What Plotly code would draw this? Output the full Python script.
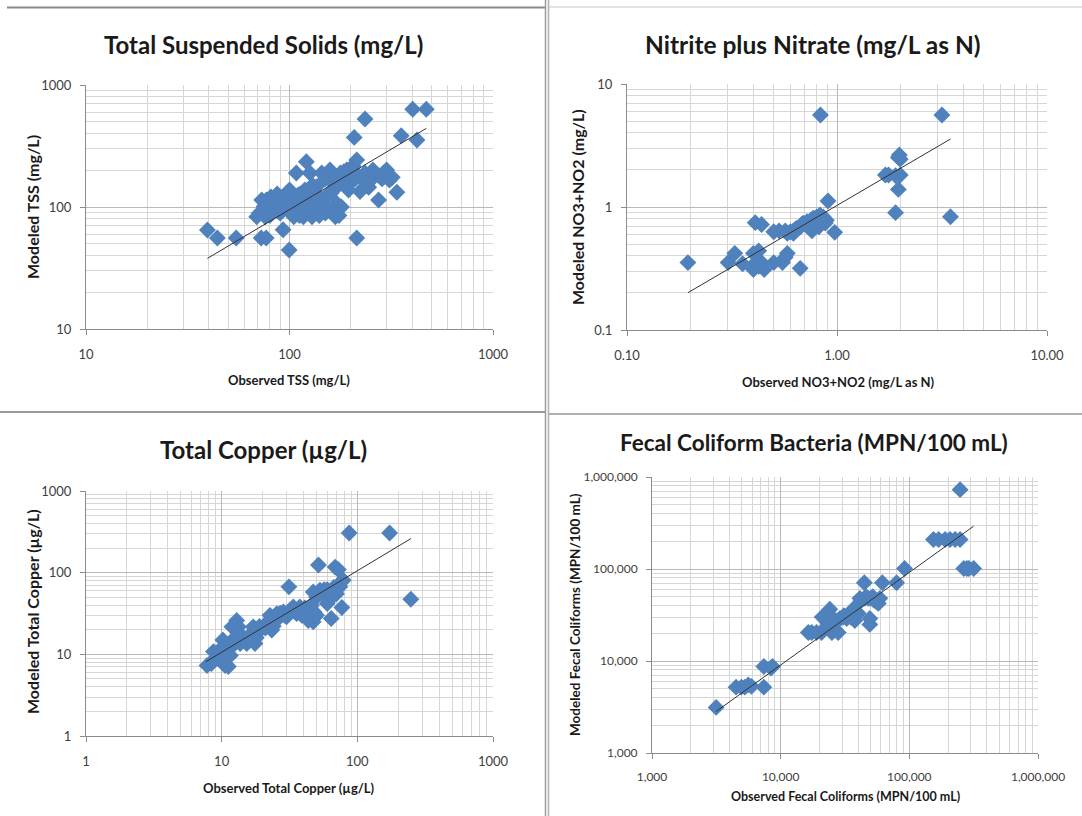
import plotly.graph_objects as go

# ---------------- DATA ----------------
# Total Suspended Solids (mg/L)
tss_obs = [39.5, 44.2, 54.7, 72.6, 76.8, 99.6, 214, 208, 235, 403, 470, 354, 423, 337, 274,
           73, 75, 77, 80, 71, 69, 76, 83, 87, 90, 93, 95, 97, 100, 105, 107, 108, 113, 117,
           121, 121, 126, 129, 132, 136, 142, 144, 150, 155, 158, 165, 168, 171, 178, 182,
           191, 195, 198, 205, 214, 219, 222, 235, 239, 257, 278, 300, 310,
           110, 115, 119, 134, 100, 87, 81, 103, 112, 124, 141, 160, 186, 245, 290,
           85, 92, 98, 103, 110, 118, 125, 135, 145, 150, 160, 170, 175, 185, 195, 200, 210,
           225, 240, 250, 265, 285, 320, 82, 88, 95, 102, 112, 140, 160, 175, 180, 80, 130,
           150, 165, 185]
tss_mod = [64.7, 55.7, 55.7, 55.7, 55.7, 44.4, 55.7, 372, 526, 632, 632, 384, 354, 132, 114,
           114, 101, 114, 107, 89, 83, 83, 114, 101, 89, 65, 114, 128, 101, 83, 114, 190, 128, 83,
           235, 114, 190, 83, 114, 147, 101, 190, 89, 128, 201, 156, 83, 107, 190, 166,
           201, 138, 190, 217, 243, 180, 134, 190, 166, 201, 180, 201, 166,
           95, 107, 138, 128, 138, 128, 121, 118, 125, 140, 120, 180, 170, 145, 190,
           110, 120, 125, 130, 125, 105, 95, 90, 110, 120, 130, 145, 160, 175, 180, 160, 170,
           175, 150, 165, 185, 170, 175, 98, 92, 105, 90, 85, 85, 95, 85, 100, 85, 150,
           170, 185, 195]
tss_trend_x = [39.5, 470]
tss_trend_y = [37.9, 441]

# Nitrite plus Nitrate (mg/L as N)
no3_obs = [0.195, 0.834, 3.16, 3.47, 1.90, 1.96, 1.96, 2.0, 1.76, 1.70, 2.0, 1.90, 1.98,
           0.50, 0.53, 0.567, 0.60, 0.62, 0.64, 0.67, 0.69, 0.72, 0.75, 0.77, 0.80, 0.83, 0.86, 0.89,
           0.76, 0.82, 0.88, 0.68, 0.62, 0.58, 0.73, 0.85, 0.79,
           0.408, 0.437, 0.424, 0.40, 0.408, 0.424, 0.45, 0.40, 0.44, 0.326, 0.303, 0.355,
           0.50, 0.55, 0.58, 0.567, 0.668, 0.975, 0.906]
no3_mod = [0.353, 5.6, 5.6, 0.834, 0.90, 1.39, 2.53, 2.45, 1.82, 1.82, 1.82, 1.80, 2.65,
           0.63, 0.64, 0.64, 0.63, 0.64, 0.67, 0.69, 0.74, 0.76, 0.78, 0.81, 0.83, 0.86, 0.83, 0.78,
           0.64, 0.69, 0.74, 0.72, 0.61, 0.61, 0.69, 0.76, 0.74,
           0.746, 0.72, 0.44, 0.42, 0.35, 0.33, 0.31, 0.31, 0.35, 0.42, 0.353, 0.346,
           0.353, 0.353, 0.42, 0.39, 0.317, 0.622, 1.12]
no3_trend_x = [0.195, 3.47]
no3_trend_y = [0.201, 3.57]

# Total Copper (ug/L)
cu_obs = [7.8, 8.4, 8.7, 9.7, 10.2, 10.6, 11.2, 11.6, 11.9, 12.2, 12.9, 13.3, 13.7, 14.5, 15.3,
          16.2, 17.1, 17.6, 18.1, 19.2, 20.3, 21.5, 22.7, 23.4, 24.6, 25.5, 26.9, 28.5, 30.1,
          31.3, 31.9, 33.7, 35.7, 37.7, 40, 42.3, 43.5, 44.8, 47.3, 48.6, 47.3, 50, 51.7, 53,
          56, 60, 62.8, 64.2, 66.4, 68.6, 72.5, 70.2, 74.4, 76.9, 78.8, 87.1, 173, 248,
          9, 9.5, 10.5, 11, 12.5, 14, 15, 16, 18, 19, 21, 22, 23, 24, 26, 27, 29, 32, 34, 36,
          38, 39, 41, 43, 45, 46, 48, 50, 52, 54, 57, 58, 60, 63, 65, 67, 70, 72, 75]
cu_mod = [7.3, 7.7, 10.8, 8.9, 15, 7.3, 7.1, 9.7, 21.7, 13, 26, 21.7, 13.6, 15, 13.6,
          15, 21.7, 13.6, 18, 19.8, 21.7, 23.8, 30, 19.8, 26, 31.5, 28.9, 33, 28.9,
          67, 34.7, 38, 31.5, 38, 34.7, 31.5, 26, 38, 25, 28.9, 58, 50.4, 124, 60.8,
          55, 42, 55, 27.5, 60.8, 117, 109, 55, 67, 37.4, 81, 306, 306, 47.3,
          9, 11, 12, 10, 16, 17, 15, 17, 16, 22, 21, 25, 27, 22, 30, 32, 30, 33, 35, 33,
          36, 30, 37, 35, 32, 40, 33, 30, 58, 56, 62, 58, 62, 57, 50, 66, 62, 70, 75]
cu_trend_x = [7.63, 248]
cu_trend_y = [8.1, 261]

# Fecal Coliform Bacteria (MPN/100 mL)
fc_obs = [3150, 4500, 4950, 5265, 5600, 5930, 7400, 7400, 8650, 8400,
          16400, 17400, 19000, 20800, 22000, 23400, 24100, 25000, 25600, 26400, 28000, 28900,
          30600, 32600, 34500, 36600, 37700, 40000, 41300, 44700, 45100, 47900, 49300, 49300,
          52000, 55500, 57400, 59000, 61700, 79600, 91800,
          154000, 169000, 190000, 207000, 227000, 248000, 248000, 265000, 280000, 290000, 316000,
          21000, 23000, 27000, 31000, 35000, 38000, 42000, 46000, 50000, 53000]
fc_mod = [3130, 5200, 5200, 5200, 5500, 5300, 5200, 8710, 8710, 8400,
          20400, 20400, 20400, 20400, 29000, 25800, 36500, 20400, 29000, 25800, 20400, 29000,
          30000, 29000, 33000, 36500, 27500, 33000, 48000, 70900, 48000, 48000, 29000, 25000,
          50000, 44000, 42300, 48000, 70900, 70900, 101400,
          209000, 209000, 209000, 209000, 209000, 209000, 729000, 101400, 101400, 101400, 101400,
          30000, 24000, 27000, 31000, 30000, 32000, 45000, 50000, 48000, 46000]
fc_trend_x = [3150, 316000]
fc_trend_y = [2830, 292000]

# Tick labels
tss_ticks = [10, 100, 1000]
tss_ticktext = ["10", "100", "1000"]
no3_ticks = [0.1, 1, 10]
no3_xticktext = ["0.10", "1.00", "10.00"]
no3_yticktext = ["0.1", "1", "10"]
cu_ticks = [1, 10, 100, 1000]
cu_ticktext = ["1", "10", "100", "1000"]
fc_ticks = [1000, 10000, 100000, 1000000]
fc_ticktext = ["1,000", "10,000", "100,000", "1,000,000"]

# ---------------- FIGURE ----------------
W, H = 1082, 816
BLUE = "#4F81BD"
FONT = "Lato"

fig = go.Figure()

panels = [
    dict(obs=tss_obs, mod=tss_mod, tx=tss_trend_x, ty=tss_trend_y, ax="x", ay="y"),
    dict(obs=no3_obs, mod=no3_mod, tx=no3_trend_x, ty=no3_trend_y, ax="x2", ay="y2"),
    dict(obs=cu_obs, mod=cu_mod, tx=cu_trend_x, ty=cu_trend_y, ax="x3", ay="y3"),
    dict(obs=fc_obs, mod=fc_mod, tx=fc_trend_x, ty=fc_trend_y, ax="x4", ay="y4"),
]
for p in panels:
    fig.add_trace(go.Scatter(x=p["obs"], y=p["mod"], mode="markers", xaxis=p["ax"], yaxis=p["ay"],
                             marker=dict(symbol="diamond", size=13, color=BLUE, line=dict(width=0)),
                             showlegend=False, hoverinfo="x+y"))
    fig.add_trace(go.Scatter(x=p["tx"], y=p["ty"], mode="lines", xaxis=p["ax"], yaxis=p["ay"],
                             line=dict(color="#333333", width=1), showlegend=False, hoverinfo="skip"))


def px_dom(a, b):
    return [a / W, b / W]


def py_dom(top, bottom):
    return [1 - bottom / H, 1 - top / H]


def log_axis(dom, rng, tickvals, ticktext, size, anchor, standoff):
    return dict(
        type="log", domain=dom, range=rng, anchor=anchor, automargin=False,
        tickmode="array", tickvals=tickvals, ticktext=ticktext,
        showgrid=True, gridcolor="#b8b8b8", gridwidth=1,
        minor=dict(showgrid=True, gridcolor="#d6d6d6", gridwidth=1, dtick="D1", ticks=""),
        showline=True, linecolor="#8c8c8c", linewidth=1, mirror=False,
        ticks="outside", ticklen=5, tickcolor="#8c8c8c",
        tickfont=dict(family=FONT, size=size, color="#404040"),
        ticklabelstandoff=standoff, zeroline=False,
    )


fig.update_layout(
    template="none",
    width=W, height=H, margin=dict(l=0, r=0, t=0, b=0, pad=0, autoexpand=False),
    paper_bgcolor="white", plot_bgcolor="white",
    xaxis=log_axis(px_dom(86, 493), [1, 3], tss_ticks, tss_ticktext, 13, "y", 8),
    yaxis=log_axis(py_dom(85, 329), [1, 3], tss_ticks, tss_ticktext, 13, "x", 6),
    xaxis2=log_axis(px_dom(627, 1047), [-1, 1], no3_ticks, no3_xticktext, 13, "y2", 8),
    yaxis2=log_axis(py_dom(84, 330), [-1, 1], no3_ticks, no3_yticktext, 13, "x2", 6),
    xaxis3=log_axis(px_dom(86, 493), [0, 3], cu_ticks, cu_ticktext, 13, "y3", 8),
    yaxis3=log_axis(py_dom(491, 736), [0, 3], cu_ticks, cu_ticktext, 13, "x3", 6),
    xaxis4=log_axis(px_dom(652, 1038), [3, 6], fc_ticks, fc_ticktext, 12, "y4", 8),
    yaxis4=log_axis(py_dom(477, 753), [3, 6], fc_ticks, fc_ticktext, 12, "x4", 6),
    hovermode="closest",
)


def ann(text, cx, cy, size, bold=False, angle=0):
    fig.add_annotation(
        text=("<b>%s</b>" % text) if bold else text,
        x=cx / W, y=1 - cy / H, xref="paper", yref="paper",
        showarrow=False, textangle=angle, xanchor="center", yanchor="middle",
        font=dict(family=FONT, size=size, color="#1a1a1a"))


# Chart titles
ann("Total Suspended Solids (mg/L)", 263, 44, 24, bold=True)
ann("Nitrite plus Nitrate (mg/L as N)", 813, 44, 24.5, bold=True)
ann("Total Copper (µg/L)", 263, 449, 24, bold=True)
ann("Fecal Coliform Bacteria (MPN/100 mL)", 814, 443, 22.5, bold=True)

# Axis titles
ann("Observed TSS (mg/L)", 289, 380, 13, bold=True)
ann("Modeled TSS (mg/L)", 32, 207, 16, bold=True, angle=-90)
ann("Observed NO3+NO2 (mg/L as N)", 838, 382, 13, bold=True)
ann("Modeled NO3+NO2 (mg/L)", 577, 207, 16, bold=True, angle=-90)
ann("Observed Total Copper (µg/L)", 289, 788, 13, bold=True)
ann("Modeled Total Copper (µg/L)", 32, 612, 16, bold=True, angle=-90)
ann("Observed Fecal Coliforms (MPN/100 mL)", 845, 796, 12.5, bold=True)
ann("Modeled Fecal Coliforms (MPN/100 mL)", 575, 615, 13.5, bold=True, angle=-90)


# Panel divider lines
def line(x0, y0, x1, y1, color, width):
    fig.add_shape(type="line", xref="paper", yref="paper",
                  x0=x0 / W, y0=1 - y0 / H, x1=x1 / W, y1=1 - y1 / H,
                  line=dict(color=color, width=width))


line(7, 7.5, 545, 7.5, "#8a8a8a", 2)
line(549, 7, 1082, 7, "#c8c8c8", 1)
line(0, 412, 545, 412, "#9a9a9a", 2)
line(549, 414, 1082, 414, "#b0b0b0", 2)
line(545.5, 0, 545.5, 816, "#9a9a9a", 1.5)
line(548.5, 0, 548.5, 816, "#b0b0b0", 1.5)

fig.write_html("out.html", config={"displayModeBar": False},
               post_script="document.body.style.margin='0px';document.body.style.overflow='hidden';")
